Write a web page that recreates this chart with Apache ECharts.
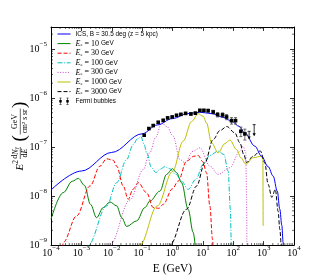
<!DOCTYPE html>
<html><head><meta charset="utf-8">
<script src="https://cdn.jsdelivr.net/npm/echarts@6/dist/echarts.min.js"></script>
<style>html,body{margin:0;padding:0;background:#fff}#c{width:320px;height:280px}</style>
</head><body><div id="c"></div>
<script>
// ---------- data (E in GeV, F = E^2 dN/dE in GeV cm^-2 s^-1 sr^-1) ----------
const icsE = [1e-4, 1e-3, 1e-2, 0.1, 0.316, 1, 3.16, 7.9, 20, 50, 88, 158, 240, 514, 853, 1410, 2060, 2820, 3410, 3980, 4380, 4680];
const icsF = [1.33e-8, 3.24e-8, 7.76e-8, 1.86e-7, 2.82e-7, 3.80e-7, 4.79e-7, 5.13e-7, 4.79e-7, 3.98e-7, 3.34e-7, 2.63e-7, 1.94e-7, 1.04e-7, 6.50e-8, 3.98e-8, 2.55e-8, 1.26e-8, 5.38e-9, 2.51e-9, 1.14e-9, 6.31e-10];

const e10E = [1e-4, 2.51e-4, 5.01e-4, 7.94e-4, 1.26e-3, 2.0e-3, 3.16e-3, 5.25e-3, 8.71e-3, 1.45e-2, 2.14e-2, 3.09e-2, 6.61e-2, 0.123, 0.182, 0.385, 0.64, 1.0, 1.36, 1.99, 3.28, 4.8, 5.75];
const e10F = [3.37e-9, 1.17e-8, 2.0e-8, 2.29e-8, 1.66e-8, 6.76e-9, 3.63e-9, 5.82e-9, 7.59e-9, 6.31e-9, 3.63e-9, 2.40e-9, 3.12e-9, 5.82e-9, 7.94e-9, 1.26e-8, 2.77e-8, 3.61e-8, 3.00e-8, 1.87e-8, 5.38e-9, 1.81e-9, 7.94e-10];

const e30E = [2.40e-4, 2.54e-4, 7.0e-4, 1.92e-3, 4.09e-3, 6.79e-3, 1.12e-2, 1.45e-2, 2.39e-2, 3.49e-2, 5.01e-2, 7.45e-2, 0.141, 0.232, 0.355, 0.494, 1.0, 1.54, 2.91, 5.01, 7.0, 10, 13.2, 17.0, 20.8, 21.9];
const e30F = [8.91e-10, 1.14e-9, 3.94e-9, 1.60e-8, 4.07e-8, 5.75e-8, 5.37e-8, 4.07e-8, 1.60e-8, 8.59e-9, 1.38e-8, 1.87e-8, 1.17e-8, 5.83e-9, 5.62e-9, 6.79e-9, 1.41e-8, 2.02e-8, 5.15e-8, 6.46e-8, 6.71e-8, 5.01e-8, 2.99e-8, 6.28e-9, 1.32e-9, 7.94e-10];

const e100E = [1.58e-3, 1.69e-3, 6.79e-3, 1.45e-2, 3.09e-2, 5.09e-2, 7.08e-2, 9.14e-2, 0.117, 0.141, 0.204, 0.282, 0.398, 0.562, 0.794, 1.26, 2.0, 3.28, 5.89, 10.2, 17.0, 31.8, 49.1, 67.9, 80.4, 86.5, 89.1];
const e100F = [7.94e-10, 1e-9, 6.28e-9, 1.87e-8, 5.57e-8, 1.12e-7, 1.48e-7, 1.63e-7, 1.12e-7, 7.59e-8, 3.80e-8, 3.02e-8, 3.55e-8, 3.98e-8, 3.63e-8, 2.82e-8, 2.0e-8, 1.37e-8, 2.19e-8, 4.42e-8, 6.76e-8, 8.22e-8, 7.05e-8, 3.23e-8, 5.38e-9, 1e-9, 7.94e-10];

const e300E = [8.51e-3, 8.73e-3, 3.98e-2, 0.109, 0.178, 0.282, 0.438, 0.655, 1.05, 1.75, 2.56, 4.80, 7.96, 17.0, 31.8, 77.3, 165, 212, 259, 274, 282];
const e300F = [7.94e-10, 1e-9, 8.32e-9, 3.47e-8, 7.59e-8, 1.58e-7, 3.10e-7, 2.61e-7, 1.66e-7, 5.57e-8, 4.78e-8, 8.22e-8, 9.64e-8, 4.07e-8, 2.77e-8, 3.78e-8, 8.22e-8, 1.04e-7, 7.62e-8, 8.59e-9, 7.94e-10];

const e1000E = [8.32e-2, 8.47e-2, 0.316, 1.0, 2.25, 4.25, 7.0, 10.2, 13.2, 19.3, 31.8, 53.0, 77.3, 129, 178, 259, 452, 853, 944, 964];
const e1000F = [7.94e-10, 1e-9, 6.31e-9, 3.16e-8, 1.32e-7, 3.31e-7, 4.79e-7, 4.22e-7, 3.09e-7, 1.22e-7, 7.62e-8, 1.17e-7, 1.39e-7, 8.89e-8, 6.04e-8, 4.47e-8, 6.04e-8, 6.50e-8, 5.62e-8, 2.47e-9];

const e3000E = [0.794, 0.82, 2.91, 6.21, 11.6, 21.8, 36.2, 61.5, 113, 165, 223, 274, 452, 778, 1094, 1406, 1862, 2427, 2999, 3412, 3819, 3981];
const e3000F = [8.91e-10, 1e-9, 5.38e-9, 1.60e-8, 4.78e-8, 1.42e-7, 2.16e-7, 2.61e-7, 1.94e-7, 1.22e-7, 7.05e-8, 4.84e-8, 6.50e-8, 8.30e-8, 4.78e-8, 1.73e-8, 9.44e-9, 1.37e-8, 4.90e-9, 2.11e-9, 1e-9, 7.94e-10];

const fermiE = [0.117, 0.167, 0.232, 0.339, 0.494, 0.690, 0.977, 1.36, 1.89, 2.70, 4.03, 5.66, 7.96, 10.8, 14.9, 21.8, 30.5, 44.5, 60.3, 87.9, 119, 178, 241];
const fermiF = [1.74e-7, 2.38e-7, 2.74e-7, 3.19e-7, 3.50e-7, 3.92e-7, 4.10e-7, 4.43e-7, 4.63e-7, 4.85e-7, 4.72e-7, 4.90e-7, 5.58e-7, 5.58e-7, 5.51e-7, 5.19e-7, 4.57e-7, 4.51e-7, 4.10e-7, 3.45e-7, 3.45e-7, 2.09e-7, 1.85e-7];
const fermiRelErr = [0.05, 0.05, 0.05, 0.05, 0.05, 0.05, 0.05, 0.05, 0.05, 0.05, 0.05, 0.05, 0.06, 0.06, 0.07, 0.08, 0.10, 0.10, 0.12, 0.15, 0.15, 0.22, 0.25];
const ulE = [333, 488];
const ulF = [2.09e-7, 2.86e-7];
const ulArrowEnd = [1.42e-7, 1.66e-7];

const legendNames = ['ICS, B = 30.5 deg (z = 5 kpc)', 'E_e = 10 GeV', 'E_e = 30 GeV', 'E_e = 100 GeV', 'E_e = 300 GeV', 'E_e = 1000 GeV', 'E_e = 3000 GeV', 'Fermi bubbles'];
const xMin = 1e-4, xMax = 1e4, yMin = 1e-9, yMax = 2.8e-5;

// ---------- chart ----------
const serif = '"Liberation Serif", "DejaVu Serif", serif';
const sans = '"Liberation Sans", Arial, sans-serif';
const pairs = (xs, ys) => xs.map((x, i) => [x, ys[i]]);

function curve(name, xs, ys, color, type, z) {
  return {
    type: 'line', name, data: pairs(xs, ys), symbol: 'none', showSymbol: false,
    smooth: 0.35, smoothMonotone: 'x', clip: true, silent: true, z: z,
    lineStyle: { color, width: 1, type }, itemStyle: { color }
  };
}

function sup(v) {
  const e = Math.log10(v), r = Math.round(e);
  if (Math.abs(e - r) > 1e-6) return '';
  return '{b|10}{s|' + (r < 0 ? '\u2212' : '') + Math.abs(r) + '}';
}
const tickRich = {
  b: { fontFamily: serif, fontSize: 10, lineHeight: 10, color: '#000', verticalAlign: 'bottom' },
  s: { fontFamily: serif, fontSize: 7, lineHeight: 7, color: '#000', verticalAlign: 'bottom', padding: [0, 0, 6, 0] }
};

const minorData = [];
for (let k = -4; k < 4; k++) for (let m = 2; m <= 9; m++) minorData.push([m * Math.pow(10, k), yMin, 0]);
for (let k = -9; k < -4; k++) for (let m = 2; m <= 9; m++) { const v = m * Math.pow(10, k); if (v < yMax) minorData.push([xMin, v, 1]); }

const fermiData = fermiE.map((e, i) => [e, fermiF[i], fermiF[i] * (1 - fermiRelErr[i]), fermiF[i] * (1 + fermiRelErr[i])]);
const ulData = ulE.map((e, i) => [e, ulF[i], ulArrowEnd[i]]);

const fermiIcon = 'path://M1.65 0h0.7v9h-0.7zM0.5 0h3v0.7h-3zM0.5 8.3h3v0.7h-3zM0.4 2.9h3.2v3.2h-3.2z' +
  'M10.65 0h0.7v9h-0.7zM9.5 0h3v0.7h-3zM9.5 8.3h3v0.7h-3zM9.4 2.9h3.2v3.2h-3.2z';

const axisCommon = {
  type: 'log', logBase: 10,
  axisLine: { show: true, onZero: false, lineStyle: { color: '#000', width: 1 } },
  axisTick: { show: true, inside: true, length: 4, lineStyle: { color: '#000', width: 0.8 } },
  splitLine: { show: false }, minorTick: { show: false }, minorSplitLine: { show: false }
};

const chart = echarts.init(document.getElementById('c'));
chart.setOption({
  animation: false,
  backgroundColor: '#fff',
  grid: { left: 51, right: 26, top: 27, bottom: 34, containLabel: false },
  xAxis: [
    Object.assign({}, axisCommon, {
      position: 'bottom', min: xMin, max: xMax,
      axisLabel: { show: true, margin: 3, formatter: sup, rich: tickRich },
      name: 'E (GeV)', nameLocation: 'middle', nameGap: 12,
      nameTextStyle: { fontFamily: serif, fontSize: 11.5, color: '#000' }
    }),
    Object.assign({}, axisCommon, { position: 'top', min: xMin, max: xMax, axisLabel: { show: false } })
  ],
  yAxis: [
    Object.assign({}, axisCommon, {
      position: 'left', min: yMin, max: yMax,
      axisLabel: { show: true, margin: 4, formatter: sup, rich: tickRich }
    }),
    Object.assign({}, axisCommon, { position: 'right', min: yMin, max: yMax, axisLabel: { show: false } })
  ],
  legend: {
    data: legendNames.map((n, i) => i === 7 ? { name: n, icon: fermiIcon }
      : { name: n, itemStyle: { opacity: 0 }, lineStyle: { width: 1 } }),
    orient: 'vertical', left: 57, top: 30, padding: 0,
    itemWidth: 13, itemHeight: 7, itemGap: 1.6, selectedMode: false,
    textStyle: {
      fontFamily: sans, fontSize: 6.4, color: '#000', lineHeight: 8,
      rich: {
        i: { fontFamily: serif, fontStyle: 'italic', fontSize: 8, lineHeight: 8, color: '#000' },
        sub: { fontFamily: serif, fontSize: 5, lineHeight: 5, color: '#000', verticalAlign: 'bottom' },
        m: { fontFamily: serif, fontSize: 8, lineHeight: 8, color: '#000' }
      }
    },
    formatter: n => n.replace(/^E_e = (\d+)/, '{i|E}{sub|e}{m| = $1}')
  },
  graphic: [{
    type: 'group', x: 20, y: 136.5, rotation: Math.PI / 2, silent: true,
    children: [
      { type: 'text', x: -34, y: 0, style: { text: 'E', font: 'italic 11px ' + serif, fill: '#000', align: 'left', verticalAlign: 'middle' } },
      { type: 'text', x: -27.2, y: -4, style: { text: '2', font: '7.5px ' + serif, fill: '#000', align: 'left', verticalAlign: 'middle' } },
      { type: 'text', x: -16.5, y: -4.6, style: { text: 'd{i|N}{s|\u03b3}', font: '8px ' + serif, fill: '#000', align: 'center', verticalAlign: 'middle',
        rich: { i: { font: 'italic 8px ' + serif, fill: '#000' }, s: { font: 'italic 5.5px ' + serif, fill: '#000', verticalAlign: 'bottom' } } } },
      { type: 'line', shape: { x1: -22.5, y1: 0.3, x2: -10.5, y2: 0.3 }, style: { stroke: '#000', lineWidth: 0.6 } },
      { type: 'text', x: -16.5, y: 5.2, style: { text: 'd{i|E}', font: '8px ' + serif, fill: '#000', align: 'center', verticalAlign: 'middle',
        rich: { i: { font: 'italic 8px ' + serif, fill: '#000' } } } },
      { type: 'text', x: -5, y: 0.5, style: { text: '(', font: '19px ' + serif, fill: '#000', align: 'left', verticalAlign: 'middle' } },
      { type: 'text', x: 15, y: -4.6, style: { text: 'GeV', font: '8px ' + serif, fill: '#000', align: 'center', verticalAlign: 'middle' } },
      { type: 'line', shape: { x1: 2, y1: 0.3, x2: 28, y2: 0.3 }, style: { stroke: '#000', lineWidth: 0.6 } },
      { type: 'text', x: 15, y: 5.3, style: { text: 'cm{s|2} s sr', font: '7.5px ' + serif, fill: '#000', align: 'center', verticalAlign: 'middle',
        rich: { s: { font: '5px ' + serif, fill: '#000', verticalAlign: 'top' } } } },
      { type: 'text', x: 28.5, y: 0.5, style: { text: ')', font: '19px ' + serif, fill: '#000', align: 'left', verticalAlign: 'middle' } }
    ]
  }],
  series: [
    curve(legendNames[0], icsE, icsF, '#0000ff', 'solid', 4),
    curve(legendNames[1], e10E, e10F, '#008000', 'solid', 3),
    curve(legendNames[2], e30E, e30F, '#ff0000', [4, 2], 3),
    curve(legendNames[3], e100E, e100F, '#00bfbf', [5, 1.6, 1, 1.6], 3),
    curve(legendNames[4], e300E, e300F, '#cc44cc', [1, 1.6], 3),
    curve(legendNames[5], e1000E, e1000F, '#bfbf00', 'solid', 3),
    curve(legendNames[6], e3000E, e3000F, '#000000', [4, 2], 3),
    {
      type: 'custom', name: legendNames[7], data: fermiData, encode: { x: 0, y: 1 }, z: 6, silent: true,
      itemStyle: { color: '#000' },
      renderItem(params, api) {
        const e = api.value(0);
        const p = api.coord([e, api.value(1)]);
        const pl = api.coord([e, api.value(2)]);
        const ph = api.coord([e, api.value(3)]);
        const x = p[0];
        const st = { stroke: '#444', lineWidth: 0.8 };
        return { type: 'group', children: [
          { type: 'line', shape: { x1: x, y1: ph[1], x2: x, y2: pl[1] }, style: st },
          { type: 'line', shape: { x1: x - 1.5, y1: ph[1], x2: x + 1.5, y2: ph[1] }, style: st },
          { type: 'line', shape: { x1: x - 1.5, y1: pl[1], x2: x + 1.5, y2: pl[1] }, style: st },
          { type: 'rect', shape: { x: p[0] - 1.8, y: p[1] - 1.8, width: 3.6, height: 3.6 }, style: { fill: '#000' } }
        ] };
      }
    },
    {
      type: 'custom', name: 'ul', data: ulData, encode: { x: 0, y: 1 }, z: 6, silent: true,
      renderItem(params, api) {
        const e = api.value(0);
        const p = api.coord([e, api.value(1)]);
        const pe = api.coord([e, api.value(2)]);
        const x = p[0];
        const st = { stroke: '#000', lineWidth: 0.8 };
        return { type: 'group', children: [
          { type: 'line', shape: { x1: x - 1.5, y1: p[1], x2: x + 1.5, y2: p[1] }, style: st },
          { type: 'line', shape: { x1: x, y1: p[1], x2: x, y2: pe[1] - 1 }, style: st },
          { type: 'polygon', shape: { points: [[x - 1.6, pe[1] - 3], [x + 1.6, pe[1] - 3], [x, pe[1]]] }, style: { fill: '#000' } }
        ] };
      }
    },
    {
      type: 'custom', name: 'minorTicks', data: minorData, encode: { x: 0, y: 1 }, z: 7, silent: true,
      renderItem(params, api) {
        const cs = params.coordSys;
        const st = { stroke: '#000', lineWidth: 0.6 };
        if (api.value(2) === 0) {
          const px = api.coord([api.value(0), yMin])[0];
          return { type: 'group', children: [
            { type: 'line', shape: { x1: px, y1: cs.y + cs.height, x2: px, y2: cs.y + cs.height - 2 }, style: st },
            { type: 'line', shape: { x1: px, y1: cs.y, x2: px, y2: cs.y + 2 }, style: st }
          ] };
        }
        const py = api.coord([xMin, api.value(1)])[1];
        return { type: 'group', children: [
          { type: 'line', shape: { x1: cs.x, y1: py, x2: cs.x + 2, y2: py }, style: st },
          { type: 'line', shape: { x1: cs.x + cs.width, y1: py, x2: cs.x + cs.width - 2, y2: py }, style: st }
        ] };
      }
    }
  ]
});
</script>
</body></html>
